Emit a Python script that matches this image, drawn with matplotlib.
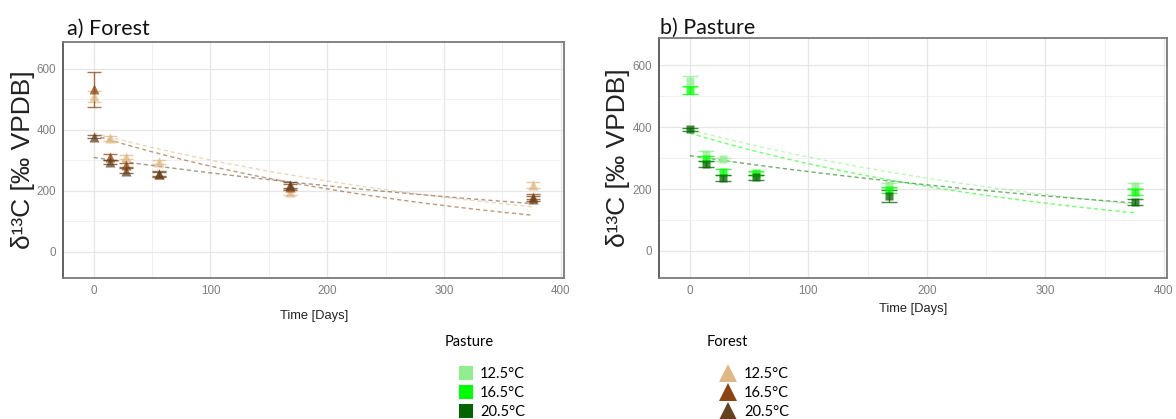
import numpy as np
import matplotlib
matplotlib.use("Agg")
import matplotlib.pyplot as plt
from matplotlib.lines import Line2D
from matplotlib.ticker import MultipleLocator

# sampling days
days = [0, 14, 28, 56, 168, 376]
temps = ["12.5°C", "16.5°C", "20.5°C"]

# forest: mean and error per temperature
forest_125 = [510, 371, 311, 294, 196, 220]
forest_125_err = [18, 8, 6, 5, 10, 10]
forest_165 = [532, 309, 284, 256, 212, 180]
forest_165_err = [58, 10, 8, 8, 10, 8]
forest_205 = [376, 294, 265, 254, 218, 173]
forest_205_err = [5, 8, 8, 8, 10, 8]

# pasture: mean and error per temperature
pasture_125 = [549, 315, 296, 250, 213, 210]
pasture_125_err = [18, 8, 6, 6, 8, 8]
pasture_165 = [521, 298, 255, 252, 198, 190]
pasture_165_err = [13, 8, 10, 8, 10, 10]
pasture_205 = [393, 282, 235, 238, 178, 159]
pasture_205_err = [6, 10, 10, 8, 20, 10]

# exponential decay fits y = a * exp(-k t)
forest_fit_a = [389, 382, 309]
forest_fit_k = [0.00259, 0.00309, 0.00179]
pasture_fit_a = [392, 381, 308]
pasture_fit_k = [0.00255, 0.00301, 0.00183]

forest_cols = ["#DEB887", "#8B4513", "#654321"]
pasture_cols = ["#90EE90", "#00FF00", "#006400"]

W, H = 1176, 419
fig = plt.figure(figsize=(W / 100, H / 100), dpi=100)

tick_font = "Liberation Sans"
head_font = "Lato"


def px_box(l, t, r, b):
    return [l / W, 1 - b / H, (r - l) / W, (b - t) / H]


def panel(ax, means, errs, fa, fk, cols, marker, ms, cap, title, tx, ty, xpad):
    tt = np.linspace(0, days[-1], 200)
    for a, k, c in zip(fa, fk, cols):
        ax.plot(tt, a * np.exp(-k * tt), color=c, alpha=0.55, lw=1.0,
                ls=(0, (3, 2.2)), zorder=2)
    for m, e, c in zip(means, errs, cols):
        ax.errorbar(days, m, yerr=e, fmt=marker, color=c, ms=ms, alpha=0.75,
                    elinewidth=1.0, capsize=cap, capthick=1.0,
                    markeredgecolor="none", zorder=3)
    ax.set_xlim(-26, 403)
    ax.set_ylim(-87, 688)
    ax.xaxis.set_major_locator(MultipleLocator(100))
    ax.xaxis.set_minor_locator(MultipleLocator(50))
    ax.yaxis.set_major_locator(MultipleLocator(200))
    ax.yaxis.set_minor_locator(MultipleLocator(100))
    ax.grid(which="major", color="#e6e6e6", lw=0.9)
    ax.grid(which="minor", color="#f0f0f0", lw=0.7)
    ax.set_axisbelow(True)
    ax.tick_params(which="both", length=0, labelcolor="#7f7f7f",
                   labelsize=8.4)
    ax.tick_params(axis="x", pad=5)
    ax.tick_params(axis="y", pad=5)
    for lab in ax.get_xticklabels() + ax.get_yticklabels():
        lab.set_fontfamily(tick_font)
    for s in ax.spines.values():
        s.set_color("#7a7a7a")
        s.set_linewidth(1.3)
    ax.spines["left"].set_color("#555555")
    ax.set_xlabel("Time [Days]", fontfamily=tick_font, fontsize=9.3,
                  color="#222222", labelpad=xpad)
    ax.set_ylabel("δ¹³C [‰ VPDB]", fontfamily=tick_font, fontsize=19,
                  color="#222222", labelpad=1.5)
    fig.text(tx / W, 1 - ty / H, title, fontfamily=head_font, fontsize=15.5,
             va="baseline", ha="left", color="#111111")


ax1 = fig.add_axes(px_box(63.3, 41.7, 564.3, 278.3))
panel(ax1, [forest_125, forest_165, forest_205],
      [forest_125_err, forest_165_err, forest_205_err],
      forest_fit_a, forest_fit_k, forest_cols, "^", 7.5, 5.2,
      "a) Forest", 66.7, 35, 9.5)

ax2 = fig.add_axes(px_box(659, 38.3, 1167.3, 277.7))
panel(ax2, [pasture_125, pasture_165, pasture_205],
      [pasture_125_err, pasture_165_err, pasture_205_err],
      pasture_fit_a, pasture_fit_k, pasture_cols, "s", 5.5, 5.8,
      "b) Pasture", 659.8, 34, 4.5)

# shared legend below the panels
fig.text(445 / W, 1 - 342 / H, "Pasture", fontfamily=head_font,
         fontsize=10.5, va="center", ha="left")
fig.text(706.7 / W, 1 - 342 / H, "Forest", fontfamily=head_font,
         fontsize=10.5, va="center", ha="left")

sq = [Line2D([], [], ls="", marker="s", ms=9.4, color=c, mew=0)
      for c in pasture_cols]
tri = [Line2D([], [], ls="", marker="^", ms=13, color=c, mew=0)
       for c in forest_cols]
leg_kw = dict(loc="upper left", frameon=False, borderpad=0, borderaxespad=0,
              labelspacing=0.34, prop={"family": head_font, "size": 10.5})
fig.legend(sq, temps, bbox_to_anchor=(459 / W, 1 - 367 / H),
           handlelength=1.0, handletextpad=0.45, **leg_kw)
fig.legend(tri, temps, bbox_to_anchor=(718.2 / W, 1 - 367 / H),
           handlelength=1.3, handletextpad=0.47, **leg_kw)

fig.savefig("out.png", dpi=100, facecolor="white")
